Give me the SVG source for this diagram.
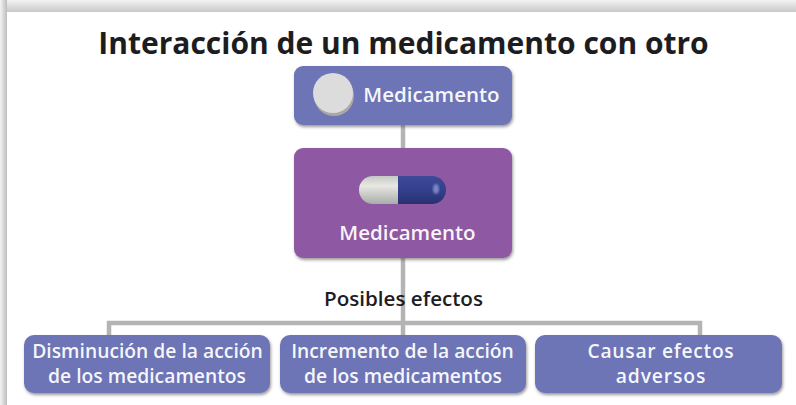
<svg xmlns="http://www.w3.org/2000/svg" width="796" height="405" viewBox="0 0 796 405">
<defs>
<linearGradient id="top" x1="0" y1="0" x2="0" y2="1"><stop offset="0" stop-color="#f2f2f2"/><stop offset="1" stop-color="#c8c8c8"/></linearGradient>
<linearGradient id="left" x1="0" y1="0" x2="1" y2="0"><stop offset="0" stop-color="#f4f4f4"/><stop offset="1" stop-color="#bcbcbc"/></linearGradient>
<linearGradient id="white" x1="0" y1="0" x2="0" y2="1"><stop offset="0" stop-color="#c4c8c4"/><stop offset=".35" stop-color="#e8e8e4"/><stop offset="1" stop-color="#a8aca8"/></linearGradient>
<linearGradient id="blue" x1="0" y1="0" x2="0" y2="1"><stop offset="0" stop-color="#3d4a98"/><stop offset=".5" stop-color="#34408e"/><stop offset="1" stop-color="#28306f"/></linearGradient>
<filter id="sh" x="-5%" y="-5%" width="110%" height="115%"><feDropShadow dx="1" dy="2" stdDeviation="1.5" flood-color="#555" flood-opacity=".6"/></filter>
<filter id="bl"><feGaussianBlur stdDeviation="1"/></filter>
</defs>
<style>
.b{fill:#6d74b6;filter:url(#sh)}
.p{fill:#8f59a3;filter:url(#sh)}
text{font-family:"Open Sans","Noto Sans","Liberation Sans",sans-serif;text-anchor:middle}
.l{fill:#fff;font-size:19.3px;font-weight:600;fill-opacity:.95}
.m{font-size:20.5px}
.c{fill:none;stroke:#b4b4b4;stroke-width:4.5}
</style>
<rect width="796" height="405" fill="#fff"/>
<rect x="0" y="0" width="796" height="12" fill="url(#top)"/>
<rect x="0" y="0" width="7" height="405" fill="url(#left)"/>
<text x="403.500" y="54" font-size="30" font-weight="700" fill="#1d1d1f" id="title">Interacción de un medicamento con otro</text>
<g id="connectors">
<path class="c" d="M403 124V150"/>
<path class="c" d="M403 258V335"/>
<path class="c" d="M109 336V323H700V336"/>
</g>
<g id="n1">
<rect class="b" x="294" y="66" width="218" height="59" rx="9"/>
<circle cx="334" cy="96" r="20" fill="#a9a8a4"/>
<circle cx="333" cy="93" r="20" fill="#dcdcdc"/>
<text class="l m" x="431.500" y="102">Medicamento</text>
</g>
<g id="n2">
<rect class="p" x="294" y="148" width="218" height="110" rx="9"/>
<path d="M399 176H373a14 14 0 0 0 0 28H399Z" fill="url(#white)"/>
<path d="M398 176H432a14 14 0 0 1 0 28H398Z" fill="url(#blue)"/>
<ellipse cx="436" cy="189" rx="3" ry="5" fill="#7c86c4" filter="url(#bl)"/>
<text class="l m" x="407.500" y="240">Medicamento</text>
</g>
<text x="403.500" y="306" font-size="20.6" font-weight="600" fill="#1d1d1f" id="effects">Posibles efectos</text>
<g id="n3">
<rect class="b" x="24" y="335" width="246" height="58" rx="10"/>
<text class="l" x="147.500" y="358">Disminución de la acción</text>
<text class="l" x="147" y="383">de los medicamentos</text>
</g>
<g id="n4">
<rect class="b" x="280" y="335" width="246" height="58" rx="10"/>
<text class="l" x="402.500" y="358">Incremento de la acción</text>
<text class="l" x="403" y="383">de los medicamentos</text>
</g>
<g id="n5">
<rect class="b" x="535" y="335" width="247" height="58" rx="10"/>
<text class="l" x="661" y="358" letter-spacing=".7">Causar efectos</text>
<text class="l" x="661" y="383" letter-spacing=".9">adversos</text>
</g>
</svg>
